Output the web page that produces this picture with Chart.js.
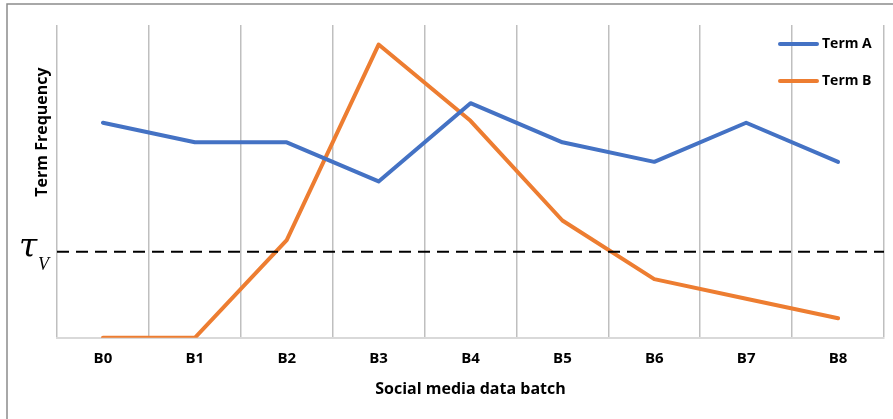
<!DOCTYPE html>
<html>
<head>
<meta charset="utf-8">
<script src="https://cdn.jsdelivr.net/npm/chart.js@4/dist/chart.umd.min.js"></script>
<style>
    html, body { margin: 0; padding: 0; background: #fff; }
    #wrap { position: relative; width: 893px; height: 419px; }
</style>
</head>
<body>
<div id="wrap"><canvas id="myChart"></canvas></div>
<script>
// Data
const batches = ["B0", "B1", "B2", "B3", "B4", "B5", "B6", "B7", "B8"];
const termA = [11, 10, 10, 8, 12, 10, 9, 11, 9];
const termB = [0, 0, 5, 15, 11.1, 6, 3, 2, 1];
const threshold = 4.4;
const yMax = 16;

const fontFamily = "'Open Sans', 'Liberation Sans', sans-serif";

// Frame, threshold line, custom legend, y title and tau label
const extras = {
    id: 'extras',
    beforeDraw(chart) {
        const c = chart.ctx;
        c.save();
        c.strokeStyle = '#8c8c8c';
        c.lineWidth = 1.5;
        c.beginPath();
        c.moveTo(7, 419);
        c.lineTo(7, 4);
        c.lineTo(893, 4);
        c.stroke();
        c.restore();
    },
    afterDatasetsDraw(chart) {
        const c = chart.ctx;
        const area = chart.chartArea;
        const y = chart.scales.y.getPixelForValue(threshold);

        // dashed threshold
        c.save();
        c.strokeStyle = '#000';
        c.lineWidth = 2;
        c.setLineDash([12, 7]);
        c.beginPath();
        c.moveTo(area.left, y);
        c.lineTo(area.right, y);
        c.stroke();
        c.restore();

        // tau_V label
        c.save();
        c.fillStyle = '#000';
        c.textBaseline = 'alphabetic';
        c.font = "italic 33px 'DejaVu Serif', 'Liberation Serif', serif";
        c.fillText('τ', 19, y + 5);
        c.font = "italic 18px 'Liberation Serif', serif";
        c.fillText('V', 38, y + 18);
        c.restore();

        // y axis title
        c.save();
        c.translate(42, 132);
        c.rotate(-Math.PI / 2);
        c.font = 'bold 16px ' + fontFamily;
        c.fillStyle = '#000';
        c.textAlign = 'center';
        c.textBaseline = 'middle';
        c.fillText('Term Frequency', 0, 0);
        c.restore();

        // legend
        c.save();
        chart.data.datasets.forEach((ds, i) => {
            const ly = 44 + i * 37;
            c.strokeStyle = ds.borderColor;
            c.lineWidth = 4;
            c.lineCap = 'round';
            c.beginPath();
            c.moveTo(780, ly);
            c.lineTo(817, ly);
            c.stroke();
            c.fillStyle = '#000';
            c.font = 'bold 14px ' + fontFamily;
            c.textBaseline = 'middle';
            c.fillText(ds.label, 822, ly);
        });
        c.restore();
    }
};

const ctx = document.getElementById('myChart').getContext('2d');
const myChart = new Chart(ctx, {
    type: 'line',
    data: {
        labels: batches,
        datasets: [
            { label: 'Term A', data: termA, borderColor: '#4472C4', backgroundColor: '#4472C4', borderWidth: 4, pointRadius: 0, tension: 0, borderCapStyle: 'round', borderJoinStyle: 'round' },
            { label: 'Term B', data: termB, borderColor: '#ED7D31', backgroundColor: '#ED7D31', borderWidth: 4, pointRadius: 0, tension: 0, borderCapStyle: 'round', borderJoinStyle: 'round' }
        ]
    },
    options: {
        responsive: true,
        maintainAspectRatio: false,
        animation: false,
        layout: { padding: { left: 57, right: 9, top: 25, bottom: 16 } },
        plugins: { legend: { display: false }, tooltip: { enabled: false } },
        scales: {
            x: {
                offset: true,
                grid: { offset: true, color: '#bfbfbf', lineWidth: 1.5, drawTicks: false },
                border: { color: '#d9d9d9', width: 2 },
                ticks: { color: '#000', font: { family: fontFamily, size: 15, weight: 'bold' }, padding: 12 },
                title: { display: true, text: 'Social media data batch', color: '#000', font: { family: fontFamily, size: 16, weight: 'bold' }, padding: { top: 0 } }
            },
            y: {
                display: false,
                min: 0,
                max: yMax
            }
        }
    },
    plugins: [extras]
});
</script>
</body>
</html>
